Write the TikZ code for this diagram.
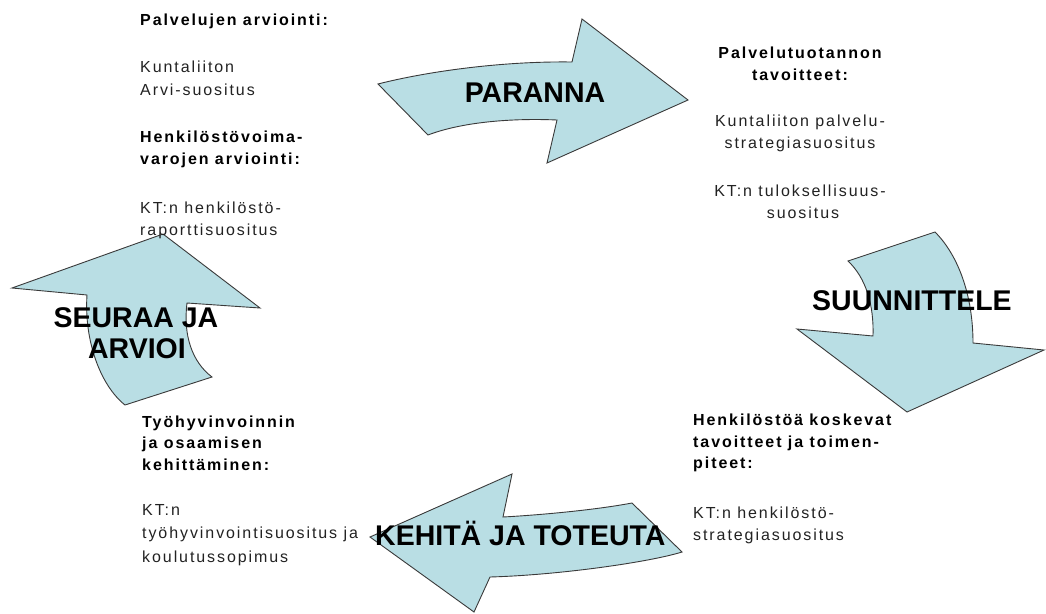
\documentclass[tikz,border=0pt]{standalone}
\usepackage{fontspec}
\setmainfont{Liberation Sans}
\newfontfamily\smallfont[LetterSpace=12]{Liberation Sans}
\newfontfamily\bigfont{Liberation Sans}
\definecolor{arrowfill}{HTML}{B9DEE4}
\definecolor{arrowline}{HTML}{3A3A3A}
\definecolor{plaintext}{HTML}{222222}
\tikzset{
  cyclearrow/.style={fill=arrowfill, draw=arrowline, line width=0.9pt, line join=miter},
  biglabel/.style={font=\bigfont\fontsize{28.5}{30}\selectfont\bfseries, inner sep=0pt, text=black},
  headline/.style={font=\smallfont\fontsize{16}{22}\selectfont\bfseries, inner sep=0pt, text=black},
  bodyline/.style={font=\smallfont\fontsize{16}{22}\selectfont, inner sep=0pt, text=plaintext},
}
\begin{document}
\begin{tikzpicture}[x=1pt,y=-1pt]
\useasboundingbox[fill=white] (0,0) rectangle (1046,613);

% arrows
\path[cyclearrow] (378,84) .. controls (425,72) and (500,61) .. (572,62) -- (582,19) -- (688,100) -- (547,163) -- (557,120) .. controls (512,118) and (462,122) .. (428,135) -- cycle;
\path[cyclearrow] (848,261) -- (935,232) .. controls (958,255) and (973,295) .. (973,343) -- (1044,350) -- (907,412) -- (797,329) -- (873,336) .. controls (874,305) and (866,278) .. (848,261) -- cycle;
\path[cyclearrow] (370,537) -- (512,474) -- (503,517) .. controls (540,515) and (595,510) .. (632,503) -- (682,552) .. controls (650,562) and (560,575) .. (490,577) -- (474,612) -- cycle;
\path[cyclearrow] (12,288) -- (163,234) -- (260,308) -- (187,303) .. controls (183,335) and (192,362) .. (212,377) -- (125,405) .. controls (100,385) and (84,340) .. (87,295) -- cycle;

% big labels
\node[biglabel, anchor=base] (paranna) at (535,102) {PARANNA};
\node[biglabel, anchor=base west] (suunnittele) at (812,310) {SUUNNITTELE};
\node[biglabel, anchor=base] (seuraa) at (136,327) {SEURAA JA};
\node[biglabel, anchor=base] (arvioi) at (137,358) {ARVIOI};
\node[biglabel, anchor=base west] (kehita) at (375,545) {KEHITÄ JA TOTEUTA};

% top-left text
\node[headline, anchor=base west] (tl1) at (140,25) {Palvelujen arviointi:};
\node[bodyline, anchor=base west] (tl2) at (140,72.5) {Kuntaliiton};
\node[bodyline, anchor=base west] (tl3) at (140,95) {Arvi-suositus};
\node[headline, anchor=base west] (tl4) at (140,142.5) {Henkilöstövoima-};
\node[headline, anchor=base west] (tl5) at (140,164) {varojen arviointi:};
\node[bodyline, anchor=base west] (tl6) at (140,213) {KT:n henkilöstö-};
\node[bodyline, anchor=base west] (tl7) at (140,235) {raporttisuositus};

% top-right text
\node[headline, anchor=base] (tr1) at (800,58) {Palvelutuotannon};
\node[headline, anchor=base] (tr2) at (800,80) {tavoitteet:};
\node[bodyline, anchor=base] (tr3) at (800,126) {Kuntaliiton palvelu-};
\node[bodyline, anchor=base] (tr4) at (800,148) {strategiasuositus};
\node[bodyline, anchor=base] (tr5) at (800,196) {KT:n tuloksellisuus-};
\node[bodyline, anchor=base] (tr6) at (803,218) {suositus};

% bottom-right text
\node[headline, anchor=base west] (br1) at (693,425) {Henkilöstöä koskevat};
\node[headline, anchor=base west] (br2) at (693,447) {tavoitteet ja toimen-};
\node[headline, anchor=base west] (br3) at (693,468.5) {piteet:};
\node[bodyline, anchor=base west] (br4) at (693,518) {KT:n henkilöstö-};
\node[bodyline, anchor=base west] (br5) at (693,540) {strategiasuositus};

% bottom-left text
\node[headline, anchor=base west] (bl1) at (142,427) {Työhyvinvoinnin};
\node[headline, anchor=base west] (bl2) at (142,448.5) {ja osaamisen};
\node[headline, anchor=base west] (bl3) at (142,470) {kehittäminen:};
\node[bodyline, anchor=base west] (bl4) at (142,515.5) {KT:n};
\node[bodyline, anchor=base west] (bl5) at (142,538) {työhyvinvointisuositus ja};
\node[bodyline, anchor=base west] (bl6) at (142,562) {koulutussopimus};
\end{tikzpicture}
\end{document}
